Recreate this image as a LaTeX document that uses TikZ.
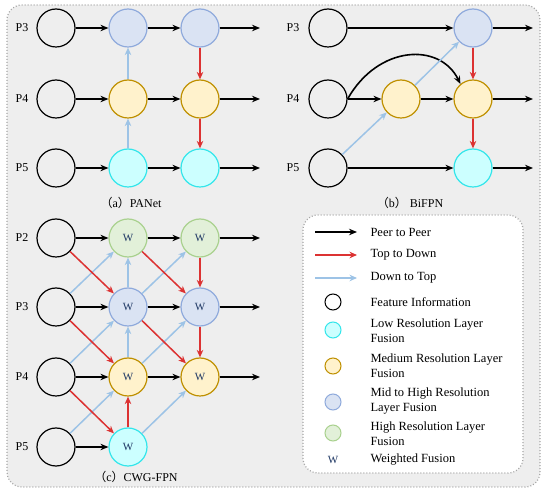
\documentclass[tikz,border=0pt]{standalone}
\usepackage{fontspec}
\setmainfont{Liberation Serif}
\newfontfamily\cjk{Noto Sans CJK SC}
\usetikzlibrary{arrows.meta}

\definecolor{panelgray}{RGB}{238,238,238}
\definecolor{bordergray}{RGB}{165,165,165}
\definecolor{bluefill}{RGB}{218,227,243}
\definecolor{blueline}{RGB}{143,170,220}
\definecolor{yellowfill}{RGB}{255,242,204}
\definecolor{yellowline}{RGB}{191,144,0}
\definecolor{cyanfill}{RGB}{204,255,255}
\definecolor{cyanline}{RGB}{51,230,235}
\definecolor{greenfill}{RGB}{226,240,217}
\definecolor{greenline}{RGB}{169,209,142}
\definecolor{tdred}{RGB}{220,50,50}
\definecolor{dtblue}{RGB}{157,195,230}
\definecolor{wblue}{RGB}{31,56,100}

\begin{document}
\begin{tikzpicture}[x=1pt,y=-1pt,
    feat/.style={circle,draw=black,line width=1.2pt,minimum size=38pt,inner sep=0pt,
      font=\fontsize{11}{11}\selectfont,text=wblue},
    lowfuse/.style={feat,draw=cyanline,fill=cyanfill},
    medfuse/.style={feat,draw=yellowline,fill=yellowfill},
    midfuse/.style={feat,draw=blueline,fill=bluefill},
    highfuse/.style={feat,draw=greenline,fill=greenfill},
    small/.style={minimum size=16pt,line width=1pt},
    peer/.style={-{Stealth[length=8pt,width=6.5pt]},line width=1.6pt,black},
    topdown/.style={-{Stealth[length=7.5pt,width=6.5pt]},line width=1.5pt,tdred},
    downtop/.style={-{Stealth[length=7.5pt,width=6.5pt]},line width=1.5pt,dtblue},
    plabel/.style={font=\fontsize{12}{12}\selectfont},
    caption/.style={font=\fontsize{12}{12}\selectfont},
    legtext/.style={anchor=west,align=left,font=\fontsize{12.5}{15}\selectfont}]

  \useasboundingbox (0,0) rectangle (550,494);

  %BACKGROUND
  \draw[draw=bordergray,fill=panelgray,line width=1.2pt,dash pattern=on 1pt off 2pt,
    rounded corners=15pt] (7,5) rectangle (540,487);
  \draw[draw=bordergray,fill=white,line width=1.2pt,dash pattern=on 1pt off 2pt,
    rounded corners=15pt] (303,215) rectangle (523,473);

  %PANEL A
  \node[plabel] at (22,28) {P3};
  \node[plabel] at (22,99) {P4};
  \node[plabel] at (22,168) {P5};
  \node[feat] (a3l) at (56,28) {};
  \node[midfuse] (a3m) at (128,28) {};
  \node[midfuse] (a3r) at (200,28) {};
  \node[feat] (a4l) at (56,99) {};
  \node[medfuse] (a4m) at (128,99) {};
  \node[medfuse] (a4r) at (200,99) {};
  \node[feat] (a5l) at (56,168) {};
  \node[lowfuse] (a5m) at (128,168) {};
  \node[lowfuse] (a5r) at (200,168) {};
  \coordinate (a3o) at (260,28);
  \coordinate (a4o) at (260,99);
  \coordinate (a5o) at (260,168);
  \draw[peer] (a3l) -- (a3m);
  \draw[peer] (a3m) -- (a3r);
  \draw[peer] (a3r) -- (a3o);
  \draw[peer] (a4l) -- (a4m);
  \draw[peer] (a4m) -- (a4r);
  \draw[peer] (a4r) -- (a4o);
  \draw[peer] (a5l) -- (a5m);
  \draw[peer] (a5m) -- (a5r);
  \draw[peer] (a5r) -- (a5o);
  \draw[downtop] (a5m) -- (a4m);
  \draw[downtop] (a4m) -- (a3m);
  \draw[topdown] (a3r) -- (a4r);
  \draw[topdown] (a4r) -- (a5r);
  \node[caption] at (131,203) {{\cjk （}a{\cjk ）}PANet};

  %PANEL B
  \node[plabel] at (293,28) {P3};
  \node[plabel] at (293,99) {P4};
  \node[plabel] at (293,168) {P5};
  \node[feat] (b3l) at (328,28) {};
  \node[midfuse] (b3r) at (473,28) {};
  \node[feat] (b4l) at (328,99) {};
  \node[medfuse] (b4m) at (401,99) {};
  \node[medfuse] (b4r) at (473,99) {};
  \node[feat] (b5l) at (328,168) {};
  \node[lowfuse] (b5r) at (473,168) {};
  \coordinate (b3o) at (533,28);
  \coordinate (b4o) at (533,99);
  \coordinate (b5o) at (533,168);
  \draw[peer] (b3l) -- (b3r);
  \draw[peer] (b3r) -- (b3o);
  \draw[peer] (b4l) -- (b4m);
  \draw[peer] (b4m) -- (b4r);
  \draw[peer] (b4r) -- (b4o);
  \draw[peer] (b5l) -- (b5r);
  \draw[peer] (b5r) -- (b5o);
  \draw[peer] (b4l.east) .. controls (378,45) and (440,42) .. (b4r.130);
  \draw[downtop] (b5l) -- (b4m);
  \draw[downtop] (b4m) -- (b3r);
  \draw[topdown] (b3r) -- (b4r);
  \draw[topdown] (b4r) -- (b5r);
  \node[caption] at (410,203) {{\cjk （}b{\cjk ）} BiFPN};

  %PANEL C
  \node[plabel] at (22,238) {P2};
  \node[plabel] at (22,307) {P3};
  \node[plabel] at (22,377) {P4};
  \node[plabel] at (22,447) {P5};
  \node[feat] (c2l) at (56,238) {};
  \node[highfuse] (c2m) at (128,238) {W};
  \node[highfuse] (c2r) at (200,238) {W};
  \node[feat] (c3l) at (56,307) {};
  \node[midfuse] (c3m) at (128,307) {W};
  \node[midfuse] (c3r) at (200,307) {W};
  \node[feat] (c4l) at (56,377) {};
  \node[medfuse] (c4m) at (128,377) {W};
  \node[medfuse] (c4r) at (200,377) {W};
  \node[feat] (c5l) at (56,447) {};
  \node[lowfuse] (c5m) at (128,447) {W};
  \coordinate (c2o) at (260,238);
  \coordinate (c3o) at (260,307);
  \coordinate (c4o) at (260,377);
  \draw[peer] (c2l) -- (c2m);
  \draw[peer] (c2m) -- (c2r);
  \draw[peer] (c2r) -- (c2o);
  \draw[peer] (c3l) -- (c3m);
  \draw[peer] (c3m) -- (c3r);
  \draw[peer] (c3r) -- (c3o);
  \draw[peer] (c4l) -- (c4m);
  \draw[peer] (c4m) -- (c4r);
  \draw[peer] (c4r) -- (c4o);
  \draw[peer] (c5l) -- (c5m);
  % down to top
  \draw[downtop] (c3l) -- (c2m);
  \draw[downtop] (c4l) -- (c3m);
  \draw[downtop] (c5l) -- (c4m);
  \draw[downtop] (c3m) -- (c2r);
  \draw[downtop] (c4m) -- (c3r);
  \draw[downtop] (c5m) -- (c4r);
  \draw[downtop] (c3m) -- (c2m);
  \draw[downtop] (c4m) -- (c3m);
  % top to down
  \draw[topdown] (c2l) -- (c3m);
  \draw[topdown] (c3l) -- (c4m);
  \draw[topdown] (c4l) -- (c5m);
  \draw[topdown] (c2m) -- (c3r);
  \draw[topdown] (c3m) -- (c4r);
  \draw[topdown] (c2r) -- (c3r);
  \draw[topdown] (c3r) -- (c4r);
  \draw[topdown] (c5m) -- (c4m);
  \node[caption] at (136,477) {{\cjk （}c{\cjk ）}CWG-FPN};

  %LEGEND
  \coordinate (k1a) at (315,232);
  \coordinate (k1b) at (357,232);
  \coordinate (k2a) at (315,255);
  \coordinate (k2b) at (357,255);
  \coordinate (k3a) at (315,278);
  \coordinate (k3b) at (357,278);
  \draw[peer] (k1a) -- (k1b);
  \draw[topdown] (k2a) -- (k2b);
  \draw[downtop] (k3a) -- (k3b);
  \node[feat,small] (kfeat) at (333,302) {};
  \node[lowfuse,small] (klow) at (333,330) {};
  \node[medfuse,small] (kmed) at (333,366) {};
  \node[midfuse,small] (kmid) at (333,402) {};
  \node[highfuse,small] (khigh) at (333,433) {};
  \node[text=wblue,font=\fontsize{11}{11}\selectfont] (kw) at (333,460) {W};
  \node[legtext] at (367,232) {Peer to Peer};
  \node[legtext] at (367,255) {Top to Down};
  \node[legtext] at (367,278) {Down to Top};
  \node[legtext] at (367,302) {Feature Information};
  \node[legtext] at (367,330.5) {Low Resolution Layer\\Fusion};
  \node[legtext] at (367,366) {Medium Resolution Layer\\Fusion};
  \node[legtext] at (367,401.5) {Mid to High Resolution\\Layer Fusion};
  \node[legtext] at (367,433.5) {High Resolution Layer\\Fusion};
  \node[legtext] at (367,460) {Weighted Fusion};

\end{tikzpicture}
\end{document}
